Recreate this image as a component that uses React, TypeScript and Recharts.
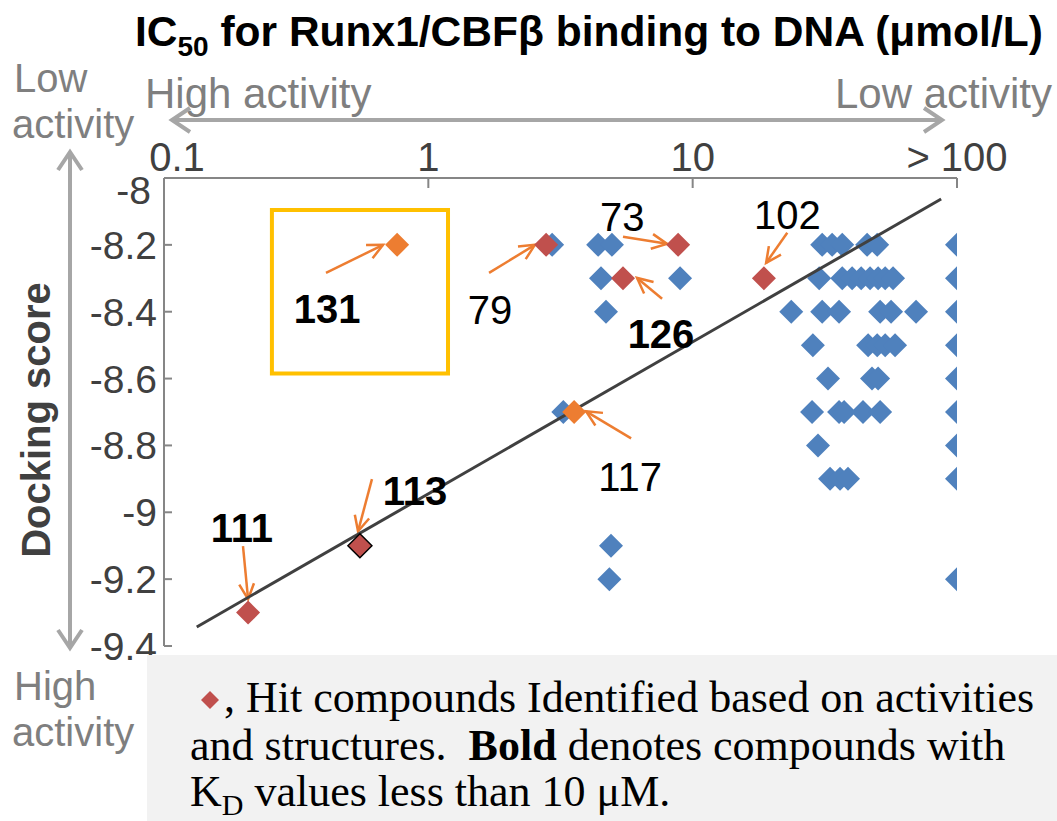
import { ScatterChart, Scatter, XAxis, YAxis, ReferenceLine, ReferenceArea } from 'recharts';

const xTicks = [0.1, 1, 10, 100];
const yTicks = [-9.4, -9.2, -9, -8.8, -8.6, -8.4, -8.2, -8];

// all tested compounds (blue)
const otherX = [
  2.94, 4.39, 4.95, 30.9, 33.7, 36.8, 45.7, 49.9, 100,
  4.5, 8.96, 30.1, 36.8, 40.1, 43.4, 46.9, 50.3, 53.5, 57.3, 100,
  4.7, 23.6, 30.9, 35.8, 51.2, 56.3, 70.0, 100,
  28.5, 46.1, 49.9, 53.5, 58.3, 100,
  32.5, 47.7, 50.3, 100,
  3.24, 28.3, 35.8, 37.4, 44.1, 51.2, 100,
  29.8, 100,
  33.1, 36.1, 38.7, 100,
  4.91,
  4.84, 100,
];
const otherY = [
  -8.2, -8.2, -8.2, -8.2, -8.2, -8.2, -8.2, -8.2, -8.2,
  -8.3, -8.3, -8.3, -8.3, -8.3, -8.3, -8.3, -8.3, -8.3, -8.3, -8.3,
  -8.4, -8.4, -8.4, -8.4, -8.4, -8.4, -8.4, -8.4,
  -8.5, -8.5, -8.5, -8.5, -8.5, -8.5,
  -8.6, -8.6, -8.6, -8.6,
  -8.7, -8.7, -8.7, -8.7, -8.7, -8.7, -8.7,
  -8.8, -8.8,
  -8.9, -8.9, -8.9, -8.9,
  -9.1,
  -9.2, -9.2,
];

// hit compounds (red)
const hitIds = ['79', '126', '73', '102', '113', '111'];
const hitX = [2.79, 5.45, 8.81, 18.6, 0.551, 0.208];
const hitY = [-8.2, -8.3, -8.2, -8.3, -9.1, -9.3];

// highlighted compounds (orange)
const leadIds = ['131', '117'];
const leadX = [0.762, 3.56];
const leadY = [-8.2, -8.7];

// trend line
const trendX = [0.133, 87.1];
const trendY = [-9.343, -8.063];

// compound labels; bold = KD below 10 uM
const labelIds = ['131', '79', '73', '102', '126', '117', '113', '111'];
const labelX = [0.414, 1.71, 5.41, 22.8, 7.59, 5.8, 0.891, 0.197];
const labelY = [-8.391, -8.394, -8.116, -8.11, -8.466, -8.893, -8.934, -9.045];
const boldIds = ['131', '126', '113', '111'];

// arrows tail -> head
const arrowFromX = [0.41, 1.697, 5.45, 7.66, 22.8, 5.85, 0.612, 0.199];
const arrowFromY = [-8.284, -8.284, -8.176, -8.361, -8.164, -8.779, -8.901, -9.101];
const arrowToX = [0.674, 2.53, 8.0, 6.16, 18.96, 3.95, 0.542, 0.208];
const arrowToY = [-8.2, -8.2, -8.197, -8.299, -8.254, -8.698, -9.057, -9.26];

// yellow highlight box around 131
const boxX = [0.256, 1.187];
const boxY = [-8.585, -8.0955];

const BLUE = '#4F81BD';
const RED = '#C0504D';
const ORANGE = '#ED7D31';
const GRAY = '#7F7F7F';
const ARROW_GRAY = '#A6A6A6';
const SANS = 'Liberation Sans, Arial, sans-serif';
const SERIF = 'Liberation Serif, Times New Roman, serif';

const otherData = otherX.map((x, i) => ({ x, y: otherY[i] }));
const hitData = hitIds.map((id, i) => ({ id, x: hitX[i], y: hitY[i] }));
const leadData = leadIds.map((id, i) => ({ id, x: leadX[i], y: leadY[i] }));
const trendData = trendX.map((x, i) => ({ x, y: trendY[i] }));
const labelData = labelIds.map((id, i) => ({ id, x: labelX[i], y: labelY[i] }));

const diamond = (fill: string) => (p: any) => {
  const { cx, cy } = p;
  const r = 12;
  if (cx == null || cy == null) return <g />;
  return (
    <polygon
      points={`${cx},${cy - r} ${cx + r},${cy} ${cx},${cy + r} ${cx - r},${cy}`}
      fill={fill}
      stroke={p.payload?.id === '113' ? '#000' : 'none'}
      strokeWidth={1.5}
    />
  );
};

const labelShape = (p: any) => {
  const { cx, cy, payload } = p;
  return (
    <text
      x={cx}
      y={cy}
      dy="0.36em"
      textAnchor="middle"
      fontFamily={SANS}
      fontSize={40}
      fontWeight={boldIds.includes(payload.id) ? 700 : 400}
      fill="#000"
    >
      {payload.id}
    </text>
  );
};

const XTick = (p: any) => {
  const { x, y, payload } = p;
  const v = payload.value;
  return (
    <text x={x + (v === 0.1 ? 13 : 0)} y={y - 1} textAnchor="middle" fontFamily={SANS} fontSize={40} fill="#404040">
      {v >= 100 ? '> 100' : String(v)}
    </text>
  );
};

const YTick = (p: any) => {
  const { x, y, payload } = p;
  const v = payload.value;
  return (
    <text
      x={x - (v === -8 ? 6 : 0)}
      y={y + (v === -8 ? 12 : 0)}
      dy="0.36em"
      textAnchor="end"
      fontFamily={SANS}
      fontSize={39}
      fill="#404040"
    >
      {String(Number(v.toFixed(1)))}
    </text>
  );
};

const Arrow = (p: any) => {
  const { x1, y1, x2, y2 } = p;
  const a = Math.atan2(y2 - y1, x2 - x1);
  const h = 17;
  const s = 0.45;
  const pt = (t: number) => `${x2 - h * Math.cos(a + t)},${y2 - h * Math.sin(a + t)}`;
  return (
    <g stroke={ORANGE} strokeWidth={2.5} fill="none">
      <line x1={x1} y1={y1} x2={x2} y2={y2} />
      <polyline points={`${pt(s)} ${x2},${y2} ${pt(-s)}`} />
    </g>
  );
};

const chevron = (x: number, y: number, dx: number, dy: number) => {
  // open arrow head pointing in direction (dx, dy)
  const h = 18;
  const w = 12;
  const px = -dy;
  const py = dx;
  return (
    <polyline
      points={`${x - dx * h + px * w},${y - dy * h + py * w} ${x},${y} ${x - dx * h - px * w},${y - dy * h - py * w}`}
      fill="none"
      stroke={ARROW_GRAY}
      strokeWidth={4}
    />
  );
};

export default function App() {
  return (
    <div style={{ position: 'absolute', left: 0, top: 0, width: 1057, height: 821, background: '#fff' }}>
      <ScatterChart width={1057} height={821} margin={{ top: 118, right: 100, bottom: 175, left: 64 }}>
        <XAxis
          type="number"
          dataKey="x"
          orientation="top"
          scale="log"
          domain={[0.1, 100]}
          ticks={xTicks}
          allowDataOverflow
          height={60}
          tickSize={-10}
          tickMargin={16}
          tick={<XTick />}
          stroke="#868686"
          strokeWidth={2}
        />
        <YAxis
          type="number"
          dataKey="y"
          domain={[-9.4, -8]}
          ticks={yTicks}
          allowDataOverflow
          width={100}
          tickSize={-8}
          tickMargin={15}
          tick={<YTick />}
          stroke="#868686"
          strokeWidth={2}
        />
        <ReferenceArea
          x1={boxX[0]}
          x2={boxX[1]}
          y1={boxY[0]}
          y2={boxY[1]}
          fill="none"
          fillOpacity={0}
          stroke="#FFC000"
          strokeWidth={4}
        />
        <Scatter data={otherData} shape={diamond(BLUE)} isAnimationActive={false} />
        <Scatter
          data={trendData}
          line={{ stroke: '#404040', strokeWidth: 3 }}
          shape={() => <g />}
          isAnimationActive={false}
        />
        <Scatter data={hitData} shape={diamond(RED)} isAnimationActive={false} />
        <Scatter data={leadData} shape={diamond(ORANGE)} isAnimationActive={false} />
        {arrowFromX.map((x, i) => (
          <ReferenceLine
            key={i}
            segment={[
              { x, y: arrowFromY[i] },
              { x: arrowToX[i], y: arrowToY[i] },
            ]}
            shape={Arrow}
          />
        ))}
        <Scatter data={labelData} shape={labelShape} isAnimationActive={false} />
      </ScatterChart>

      <svg
        width={1057}
        height={821}
        style={{ position: 'absolute', left: 0, top: 0, pointerEvents: 'none' }}
      >
        <text x={135} y={46} fontFamily={SANS} fontSize={42.5} fontWeight={700} fill="#000">
          IC
          <tspan fontSize={28} dy={10}>50</tspan>
          <tspan dy={-10}> for Runx1/CBFβ binding to DNA (μmol/L)</tspan>
        </text>

        <text x={14} y={92} fontFamily={SANS} fontSize={40} fill={GRAY}>Low</text>
        <text x={12} y={138} fontFamily={SANS} fontSize={40} fill={GRAY}>activity</text>
        <text x={14} y={700} fontFamily={SANS} fontSize={40} fill={GRAY}>High</text>
        <text x={12} y={746} fontFamily={SANS} fontSize={40} fill={GRAY}>activity</text>
        <text x={145} y={108} fontFamily={SANS} fontSize={42} fill={GRAY}>High activity</text>
        <text x={1052} y={108} textAnchor="end" fontFamily={SANS} fontSize={42} fill={GRAY}>Low activity</text>

        <line x1={172} y1={120} x2={942} y2={120} stroke={ARROW_GRAY} strokeWidth={4} />
        {chevron(172, 120, -1, 0)}
        {chevron(942, 120, 1, 0)}
        <line x1={70} y1={152} x2={70} y2={648} stroke={ARROW_GRAY} strokeWidth={4} />
        {chevron(70, 152, 0, -1)}
        {chevron(70, 648, 0, 1)}

        <text
          transform="translate(50,420) rotate(-90)"
          textAnchor="middle"
          fontFamily={SANS}
          fontSize={40}
          fontWeight={700}
          fill="#404040"
        >
          Docking score
        </text>

        <rect x={147} y={655} width={910} height={166} fill="#F2F2F2" />
        <polygon points="210,691 219,700 210,709 201,700" fill={RED} />
        <text x={224} y={712} fontFamily={SERIF} fontSize={44} fill="#000">
          , Hit compounds Identified based on activities
        </text>
        <text x={190} y={760} fontFamily={SERIF} fontSize={44} fill="#000" xmlSpace="preserve">
          and structures.{'  '}
          <tspan fontWeight={700}>Bold</tspan> denotes compounds with
        </text>
        <text x={190} y={806} fontFamily={SERIF} fontSize={44} fill="#000">
          K<tspan fontSize={30} dy={9}>D</tspan>
          <tspan dy={-9}> values less than 10 μM.</tspan>
        </text>
      </svg>
    </div>
  );
}
